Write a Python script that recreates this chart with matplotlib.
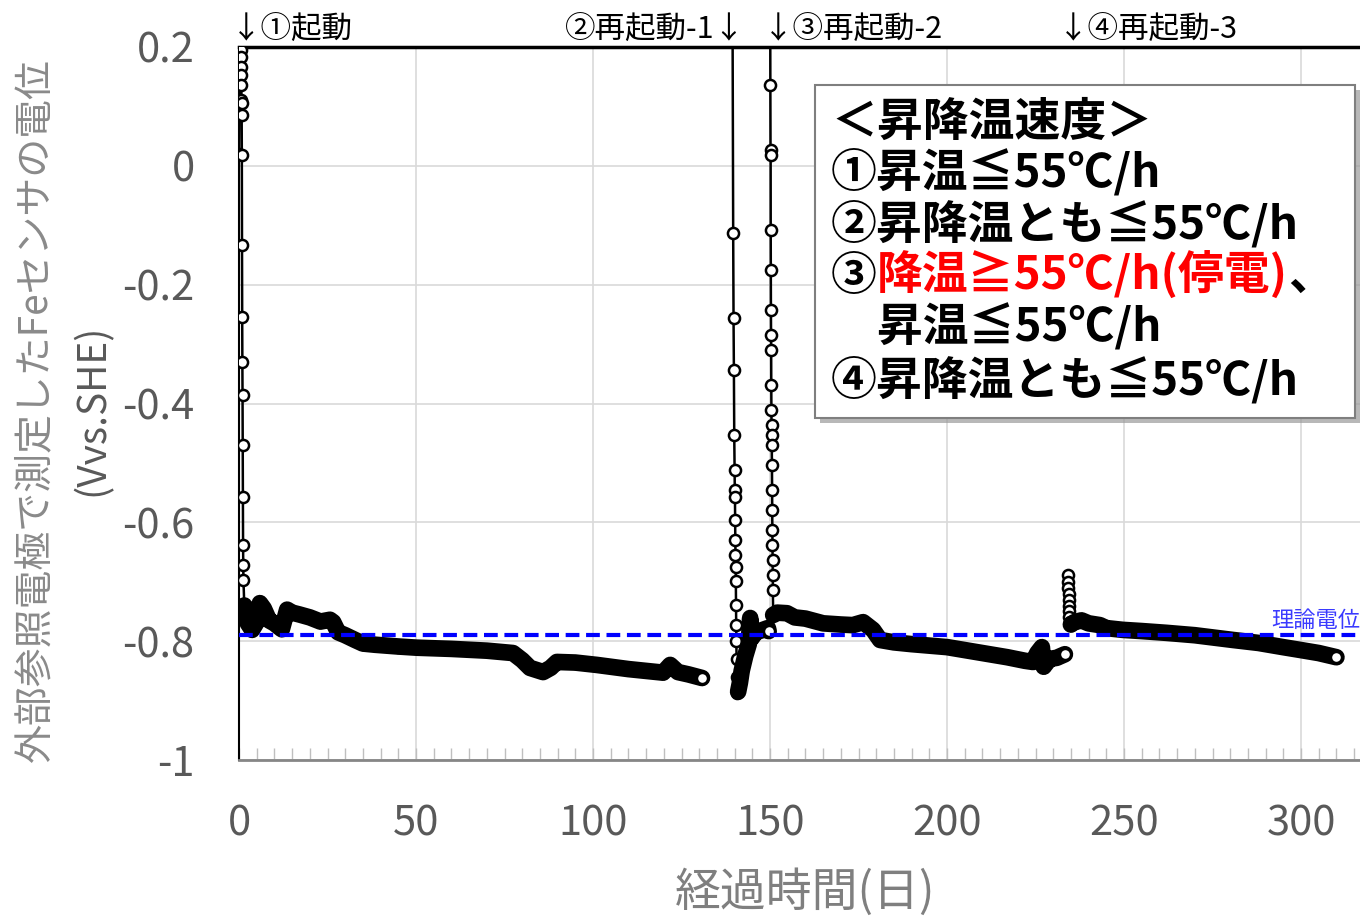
import matplotlib
matplotlib.use('Agg')
import matplotlib.pyplot as plt
from matplotlib.patches import Rectangle

plt.rcParams['font.family'] = ['Noto Sans CJK JP', 'DejaVu Sans']

# ---------------------------------------------------------------------
# data
# ---------------------------------------------------------------------

# ① startup
s1_days = [0.0, 0.2, 0.45, 0.5, 0.55, 0.6, 0.65, 0.7, 0.72, 0.75, 0.8, 0.85,
           0.9, 0.95, 1.0, 1.05, 1.1, 1.15, 1.2, 1.25,
           1.5, 2.5, 3.7, 4.8, 5.9, 7.0, 8.5, 10, 12.1, 13.6, 15, 17, 20, 23,
           25.7, 26.6, 28, 30, 32.8, 35, 38.4, 45, 50.3, 60, 70, 77.4, 80,
           82.2, 85.9, 88, 89.8, 95, 101.1, 110, 119.8, 121.8, 124, 127, 130.8]
s1_vals = [0.02, 0.25, 0.195, 0.183, 0.166, 0.153, 0.136, 0.111, 0.106, 0.086,
           0.018, -0.133, -0.254, -0.33, -0.386, -0.47, -0.557, -0.638, -0.672,
           -0.697,
           -0.74, -0.77, -0.781, -0.77, -0.736, -0.745, -0.765, -0.77, -0.78,
           -0.747, -0.752, -0.755, -0.76, -0.767, -0.764, -0.768, -0.785, -0.79,
           -0.798, -0.804, -0.806, -0.809, -0.811, -0.813, -0.816, -0.82, -0.832,
           -0.845, -0.852, -0.845, -0.835, -0.836, -0.84, -0.847, -0.853, -0.84,
           -0.852, -0.856, -0.862]
s1_band = 20

# ② restart-1
s2_days = [139.3, 139.6, 139.7, 139.8, 139.9, 140.0, 140.05, 140.1, 140.15,
           140.2, 140.25, 140.3, 140.35, 140.4, 140.45, 140.5, 140.55, 140.6,
           140.7,
           141.0, 141.5, 142.0, 143.0, 144.0, 144.4, 144.8, 146.0, 148.0, 149.4,
           149.6]
s2_vals = [0.5, -0.113, -0.256, -0.344, -0.453, -0.512, -0.546, -0.557, -0.596,
           -0.63, -0.655, -0.675, -0.699, -0.739, -0.773, -0.80, -0.83, -0.86,
           -0.887,
           -0.885, -0.87, -0.85, -0.825, -0.805, -0.761, -0.795, -0.785, -0.781,
           -0.778, -0.783]
s2_band = 19

# ③ restart-2
s3_days = [150.0, 150.1, 150.15, 150.18, 150.2, 150.23, 150.26, 150.3, 150.33,
           150.36, 150.4, 150.43, 150.46, 150.5, 150.55, 150.6, 150.63, 150.66,
           150.7, 150.73, 150.76, 150.8,
           150.9, 152, 154.8, 157, 160, 165, 170, 173.4, 176.3, 179.1, 181.1,
           185, 190, 200, 210, 217, 222, 224.3, 225.5, 226.8, 227.3, 229, 231,
           233.3]
s3_vals = [0.5, 0.136, 0.027, 0.018, -0.108, -0.175, -0.243, -0.285, -0.31,
           -0.369, -0.411, -0.436, -0.453, -0.47, -0.503, -0.546, -0.579,
           -0.613, -0.638, -0.663, -0.689, -0.714,
           -0.756, -0.752, -0.753, -0.76, -0.762, -0.77, -0.772, -0.773, -0.768,
           -0.781, -0.798, -0.802, -0.805, -0.81, -0.82, -0.827, -0.833, -0.835,
           -0.82, -0.81, -0.843, -0.83, -0.828, -0.822]
s3_band = 22

# ④ restart-3
s4_days = [234.2, 234.25, 234.3, 234.35, 234.4, 234.45, 234.5, 234.6, 234.7,
           235, 236, 238, 240, 243.2, 245, 249.7, 255, 262, 270, 280.8, 288,
           294.9, 300, 305, 310]
s4_vals = [-0.689, -0.70, -0.71, -0.72, -0.73, -0.74, -0.75, -0.76, -0.768,
           -0.772, -0.768, -0.765, -0.77, -0.773, -0.778, -0.781, -0.783,
           -0.786, -0.79, -0.798, -0.803, -0.81, -0.815, -0.82, -0.827]
s4_band = 9

segments = [(s1_days, s1_vals, s1_band), (s2_days, s2_vals, s2_band),
            (s3_days, s3_vals, s3_band), (s4_days, s4_vals, s4_band)]

theory_potential = -0.79

y_ticks = [0.2, 0, -0.2, -0.4, -0.6, -0.8, -1]
y_tick_labels = ['0.2', '0', '-0.2', '-0.4', '-0.6', '-0.8', '-1']
x_ticks = [0, 50, 100, 150, 200, 250, 300]

event_labels = ['↓①起動', '②再起動-1↓', '↓③再起動-2', '↓④再起動-3']

legend_lines = ['＜昇降温速度＞', '①昇温≦55℃/h', '②昇降温とも≦55℃/h',
                None, '　昇温≦55℃/h', '④昇降温とも≦55℃/h']
legend_red = ['③', '降温≧55℃/h(停電)', '、']

# ---------------------------------------------------------------------
# figure
# ---------------------------------------------------------------------

W, H = 1360, 917
fig = plt.figure(figsize=(13.6, 9.17), dpi=100)
ax = fig.add_axes([239 / W, 157 / H, 1121 / W, 713 / H])

ax.set_xlim(0, 1121 / 3.54)
ax.set_ylim(-1, 0.2)

ax.grid(True, color='#d9d9d9', lw=1.2, zorder=0)
ax.set_axisbelow(True)

# thin line + open circles, thick band where the hourly points pile up
for days, vals, k in segments:
    ax.plot(days, vals, color='black', lw=1.8, marker='o', ms=8,
            mfc='white', mec='black', mew=1.8, zorder=4)
    ax.plot(days[k:], vals[k:], color='black', lw=12,
            solid_capstyle='round', solid_joinstyle='round', zorder=5)
    ax.plot(days[-1], vals[-1], 'o', ms=8, mfc='white', mec='black',
            mew=1.8, zorder=6)

ax.axhline(theory_potential, color='#0000ff', lw=3, dashes=(3.3, 1.6), zorder=7)
ax.text(1.0, theory_potential + 0.006, '理論電位', transform=ax.get_yaxis_transform(),
        ha='right', va='bottom', fontsize=16, color='#3a3aff', clip_on=False)

# axes styling
ax.spines['top'].set_color('black')
ax.spines['top'].set_linewidth(2.5)
ax.spines['left'].set_color('black')
ax.spines['left'].set_linewidth(1.5)
ax.spines['bottom'].set_color('#868686')
ax.spines['bottom'].set_linewidth(2)
ax.spines['right'].set_visible(False)

ax.set_yticks(y_ticks)
ax.set_yticklabels(y_tick_labels)
ax.set_xticks(x_ticks)
ax.set_xticks(range(0, 320, 5), minor=True)
ax.tick_params(axis='y', length=0, pad=32, labelsize=30, labelcolor='#595959')
ax.tick_params(axis='x', which='both', direction='in', length=8.5, width=1,
               color='#bfbfbf', pad=31, labelsize=30, labelcolor='#595959')

fig.text(805 / W, 1 - 893 / H, '経過時間(日)', ha='center', va='center',
         fontsize=33, color='#7f7f7f')
fig.text(35 / W, 1 - 410 / H, '外部参照電極で測定したFeセンサの電位', rotation=90,
         ha='center', va='center', fontsize=28, color='#8a8a8a')
fig.text(93 / W, 1 - 410 / H, '(Vvs.SHE)', rotation=90,
         ha='center', va='center', fontsize=28, color='#595959')

# event labels above the plot
fig.text(231 / W, 1 - 30 / H, event_labels[0], ha='left', va='center', fontsize=22)
fig.text(745 / W, 1 - 30 / H, event_labels[1], ha='right', va='center', fontsize=22)
fig.text(763 / W, 1 - 30 / H, event_labels[2], ha='left', va='center', fontsize=22)
fig.text(1058 / W, 1 - 30 / H, event_labels[3], ha='left', va='center', fontsize=22)

# legend box
tf = fig.transFigure
ax.add_patch(Rectangle((820 / W, 1 - 423 / H), 540 / W, 333 / H, transform=tf,
                       facecolor='#9a9a9a', edgecolor='none', alpha=0.7,
                       clip_on=False, zorder=9))
ax.add_patch(Rectangle((815 / W, 1 - 418 / H), 540 / W, 333 / H, transform=tf,
                       facecolor='white', edgecolor='#7f7f7f', lw=1.5,
                       clip_on=False, zorder=10))

line_y = [123, 173, 225, 277, 328, 381]
for txt, yy in zip(legend_lines, line_y):
    if txt is None:
        continue
    ax.text(831 / W, 1 - yy / H, txt, transform=tf, ha='left', va='center',
            fontsize=33, fontweight='bold', clip_on=False, zorder=11)

t0 = ax.text(831 / W, 1 - line_y[3] / H, legend_red[0], transform=tf, ha='left',
             va='center', fontsize=33, fontweight='bold', clip_on=False, zorder=11)
t1 = ax.annotate(legend_red[1], xy=(1, 0), xycoords=t0, ha='left', va='bottom',
                 fontsize=33, fontweight='bold', color='#ff0000', zorder=11,
                 annotation_clip=False)
ax.annotate(legend_red[2], xy=(1, 0), xycoords=t1, ha='left', va='bottom',
            fontsize=33, fontweight='bold', zorder=11, annotation_clip=False)

fig.savefig('out.png', dpi=100)
